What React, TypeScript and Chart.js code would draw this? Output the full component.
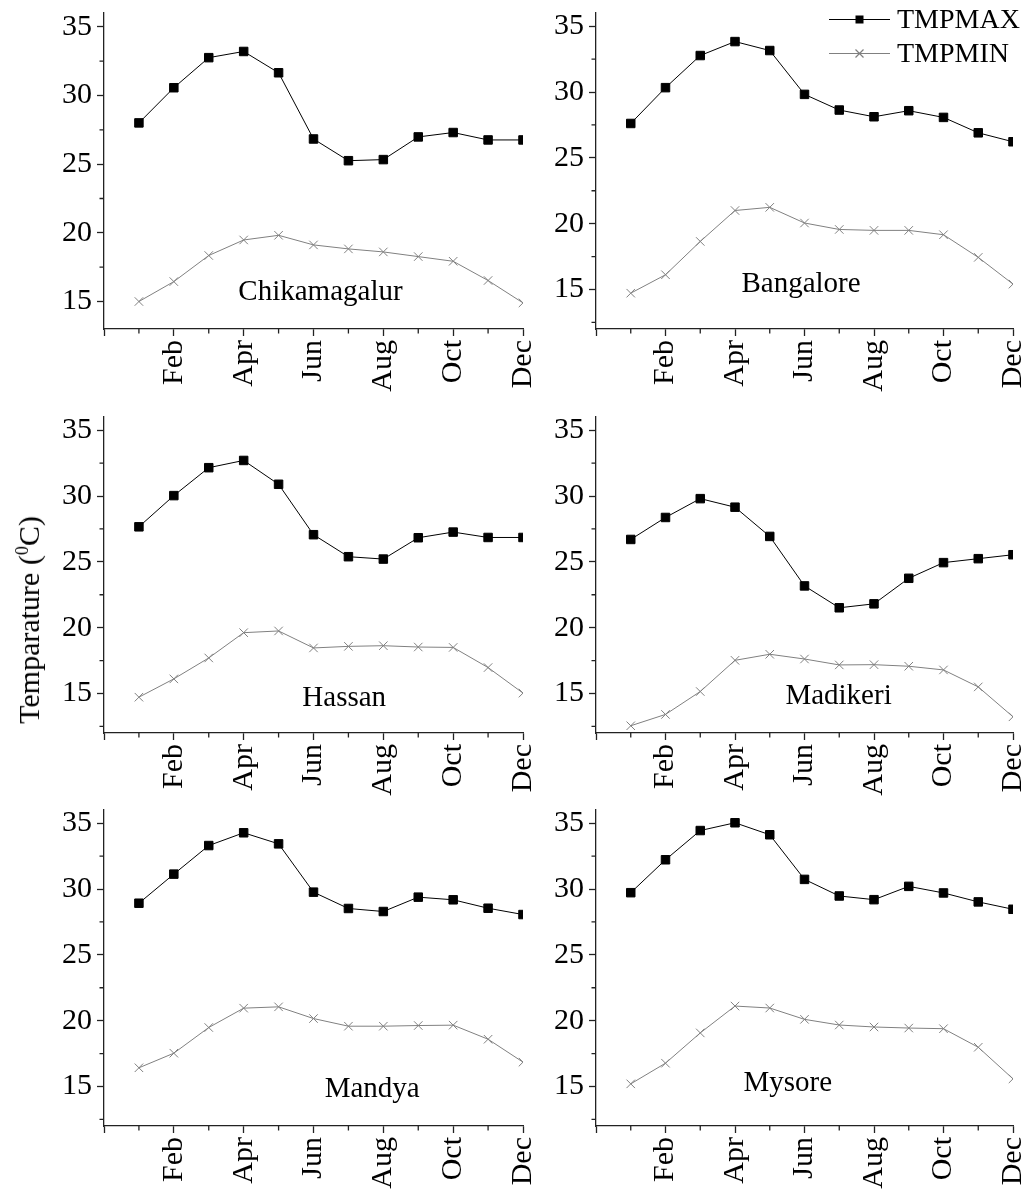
import React, { useEffect, useRef } from 'react';
import { Chart, registerables } from 'chart.js';

Chart.register(...registerables);

// ---------- data ----------
const monthNumbers = [1, 2, 3, 4, 5, 6, 7, 8, 9, 10, 11, 12];
const monthNames = ['Jan', 'Feb', 'Mar', 'Apr', 'May', 'Jun', 'Jul', 'Aug', 'Sep', 'Oct', 'Nov', 'Dec'];
const xMajorTicks = [0, 2, 4, 6, 8, 10, 12];
const xMinorTicks = [1, 3, 5, 7, 9, 11];
const yMajorTicks = [15, 20, 25, 30, 35];
const yMinorTicks = [12.5, 17.5, 22.5, 27.5, 32.5];
const seriesNames = ['TMPMAX', 'TMPMIN'];

const chikamagalurMax = [28.0, 30.56, 32.75, 33.2, 31.65, 26.83, 25.25, 25.33, 26.98, 27.3, 26.76, 26.76];
const chikamagalurMin = [15.0, 16.45, 18.35, 19.48, 19.82, 19.12, 18.83, 18.61, 18.27, 17.93, 16.53, 14.9];

const bangaloreMax = [27.61, 30.33, 32.77, 33.83, 33.15, 29.82, 28.63, 28.12, 28.58, 28.07, 26.9, 26.22];
const bangaloreMin = [14.72, 16.12, 18.65, 21.0, 21.24, 20.05, 19.56, 19.49, 19.49, 19.16, 17.44, 15.41];

const hassanMax = [27.66, 30.03, 32.15, 32.7, 30.89, 27.06, 25.39, 25.21, 26.83, 27.26, 26.85, 26.85];
const hassanMin = [14.72, 16.11, 17.7, 19.62, 19.75, 18.46, 18.58, 18.63, 18.53, 18.5, 16.97, 15.03];

const madikeriMax = [26.7, 28.37, 29.8, 29.15, 26.93, 23.17, 21.51, 21.81, 23.75, 24.94, 25.24, 25.54];
const madikeriMin = [12.55, 13.41, 15.15, 17.52, 17.98, 17.62, 17.17, 17.19, 17.07, 16.79, 15.5, 13.23];

const mandyaMax = [28.92, 31.13, 33.3, 34.27, 33.43, 29.76, 28.52, 28.29, 29.38, 29.18, 28.54, 28.06];
const mandyaMin = [16.42, 17.53, 19.48, 20.95, 21.05, 20.16, 19.58, 19.58, 19.63, 19.66, 18.59, 16.85];

const mysoreMax = [29.72, 32.22, 34.44, 35.03, 34.12, 30.73, 29.47, 29.19, 30.2, 29.7, 29.02, 28.46];
const mysoreMin = [15.2, 16.77, 19.07, 21.11, 20.96, 20.1, 19.67, 19.52, 19.44, 19.39, 17.98, 15.58];

// ---------- layout / style ----------
const FONT = "'Liberation Serif', 'Times New Roman', Times, serif";
const AXIS_COLOR = '#222222';
const AXIS_W = 1.3;
const MAJOR_LEN = 7;
const MINOR_LEN = 4.5;
const MAX_COLOR = '#000000';
const MIN_COLOR = '#808080';
const TICK_FONT = 30;

type Panel = {
  name: string;
  max: number[];
  min: number[];
  yMin: number;
  labelX: number;
  labelY: number;
  legend: boolean;
  left: number;
  width: number;
  plotLeft: number;
  plotRight: number;
  plotTop: number;
  plotBottom: number;
};

const LEFT_COL = { left: 0, width: 540, plotLeft: 104, plotRight: 523 };
const RIGHT_COL = { left: 540, width: 487, plotLeft: 56, plotRight: 473 };
const ROWS = [
  { plotTop: 12.5, plotBottom: 328.5 },
  { plotTop: 417, plotBottom: 733 },
  { plotTop: 810, plotBottom: 1126 },
];

const panels: Panel[] = [
  { name: 'Chikamagalur', max: chikamagalurMax, min: chikamagalurMin, yMin: 13, labelX: 6.2, labelY: 15.65, legend: false, ...LEFT_COL, ...ROWS[0] },
  { name: 'Bangalore', max: bangaloreMax, min: bangaloreMin, yMin: 12, labelX: 5.9, labelY: 15.4, legend: true, ...RIGHT_COL, ...ROWS[0] },
  { name: 'Hassan', max: hassanMax, min: hassanMin, yMin: 12, labelX: 6.88, labelY: 14.65, legend: false, ...LEFT_COL, ...ROWS[1] },
  { name: 'Madikeri', max: madikeriMax, min: madikeriMin, yMin: 12, labelX: 6.98, labelY: 14.75, legend: false, ...RIGHT_COL, ...ROWS[1] },
  { name: 'Mandya', max: mandyaMax, min: mandyaMin, yMin: 12, labelX: 7.68, labelY: 14.75, legend: false, ...LEFT_COL, ...ROWS[2] },
  { name: 'Mysore', max: mysoreMax, min: mysoreMin, yMin: 12, labelX: 5.52, labelY: 15.2, legend: false, ...RIGHT_COL, ...ROWS[2] },
];

const TOP_PAD = 12;
const BOTTOM_SPACE = 70;

const decorPlugin = {
  id: 'decor',
  afterDraw(chart: any, _args: any, opts: any) {
    const { ctx } = chart;
    const xs = chart.scales.x;
    const ys = chart.scales.y;
    const area = chart.chartArea;
    ctx.save();
    ctx.strokeStyle = AXIS_COLOR;
    ctx.lineWidth = AXIS_W;
    ctx.beginPath();
    for (const v of xMinorTicks) {
      const px = xs.getPixelForValue(v);
      ctx.moveTo(px, area.bottom);
      ctx.lineTo(px, area.bottom + MINOR_LEN);
    }
    for (const v of yMinorTicks) {
      if (v < ys.min || v > ys.max) continue;
      const py = ys.getPixelForValue(v);
      ctx.moveTo(area.left, py);
      ctx.lineTo(area.left - MINOR_LEN, py);
    }
    ctx.stroke();

    ctx.fillStyle = '#000';
    ctx.font = `29px ${FONT}`;
    ctx.textAlign = 'center';
    ctx.textBaseline = 'middle';
    ctx.fillText(opts.label, xs.getPixelForValue(opts.lx), ys.getPixelForValue(opts.ly));

    if (opts.legend) {
      const colors = [MAX_COLOR, MIN_COLOR];
      const rows = [area.top + 6.5, area.top + 40.5];
      const x0 = area.right - 184;
      const x1 = area.right - 123;
      const xm = (x0 + x1) / 2;
      seriesNames.forEach((nm, i) => {
        const y = rows[i];
        ctx.strokeStyle = colors[i];
        ctx.lineWidth = 1.2;
        ctx.beginPath();
        ctx.moveTo(x0, y);
        ctx.lineTo(x1, y);
        ctx.stroke();
        if (i === 0) {
          ctx.fillStyle = MAX_COLOR;
          ctx.fillRect(xm - 4, y - 4, 8, 8);
        } else {
          ctx.beginPath();
          ctx.moveTo(xm - 4, y - 4);
          ctx.lineTo(xm + 4, y + 4);
          ctx.moveTo(xm - 4, y + 4);
          ctx.lineTo(xm + 4, y - 4);
          ctx.stroke();
        }
        ctx.fillStyle = '#000';
        ctx.font = `28px ${FONT}`;
        ctx.textAlign = 'left';
        ctx.textBaseline = 'middle';
        ctx.fillText(nm, x1 + 7, y + 1);
      });
    }
    ctx.restore();
  },
};

function PanelChart({ p }: { p: Panel }) {
  const ref = useRef<HTMLCanvasElement | null>(null);
  const canvasTop = p.plotTop - TOP_PAD;
  const canvasHeight = p.plotBottom - p.plotTop + TOP_PAD + BOTTOM_SPACE;
  useEffect(() => {
    if (!ref.current) return;
    const xAxisHeight = canvasHeight - (p.plotBottom - canvasTop);
    const chart = new Chart(ref.current, {
      type: 'line',
      data: {
        datasets: [
          {
            label: seriesNames[0],
            data: monthNumbers.map((m, i) => ({ x: m, y: p.max[i] })),
            borderColor: MAX_COLOR,
            borderWidth: 1,
            backgroundColor: MAX_COLOR,
            pointStyle: 'rect',
            pointRadius: 6,
            pointBorderWidth: 1,
            pointBackgroundColor: MAX_COLOR,
            pointBorderColor: MAX_COLOR,
            tension: 0,
            clip: 0,
          },
          {
            label: seriesNames[1],
            data: monthNumbers.map((m, i) => ({ x: m, y: p.min[i] })),
            borderColor: MIN_COLOR,
            borderWidth: 1,
            backgroundColor: MIN_COLOR,
            pointStyle: 'crossRot',
            pointRadius: 6,
            pointBorderWidth: 1,
            pointBorderColor: MIN_COLOR,
            tension: 0,
            clip: 0,
          },
        ],
      },
      options: {
        responsive: false,
        animation: false,
        devicePixelRatio: 1,
        layout: { padding: { left: 0, top: TOP_PAD, right: p.width - p.plotRight, bottom: 0 } },
        plugins: {
          legend: { display: false },
          tooltip: { enabled: false },
          decor: { label: p.name, lx: p.labelX, ly: p.labelY, legend: p.legend },
        } as any,
        scales: {
          x: {
            type: 'linear',
            min: 0,
            max: 12,
            afterBuildTicks: (s: any) => {
              s.ticks = xMajorTicks.map((v) => ({ value: v }));
            },
            afterFit: (s: any) => {
              s.height = xAxisHeight;
              s.paddingLeft = 0;
              s.paddingRight = 0;
              s.paddingTop = 0;
              s.paddingBottom = 0;
            },
            ticks: {
              autoSkip: false,
              minRotation: 90,
              maxRotation: 90,
              padding: 4,
              color: '#000',
              font: { family: FONT, size: TICK_FONT },
              callback: (v: any) => (v >= 1 ? monthNames[v - 1] : ''),
            },
            grid: {
              display: true,
              drawOnChartArea: false,
              drawTicks: true,
              tickLength: MAJOR_LEN,
              tickColor: AXIS_COLOR,
              tickWidth: AXIS_W,
            },
            border: { display: true, color: AXIS_COLOR, width: AXIS_W },
          },
          y: {
            type: 'linear',
            min: p.yMin,
            max: 36,
            afterBuildTicks: (s: any) => {
              s.ticks = yMajorTicks.map((v) => ({ value: v }));
            },
            afterFit: (s: any) => {
              s.width = p.plotLeft;
              s.paddingLeft = 0;
              s.paddingRight = 0;
              s.paddingTop = 0;
              s.paddingBottom = 0;
            },
            ticks: {
              padding: 5,
              color: '#000',
              font: { family: FONT, size: TICK_FONT },
              callback: (v: any) => String(v),
            },
            grid: {
              display: true,
              drawOnChartArea: false,
              drawTicks: true,
              tickLength: MAJOR_LEN,
              tickColor: AXIS_COLOR,
              tickWidth: AXIS_W,
            },
            border: { display: true, color: AXIS_COLOR, width: AXIS_W },
          },
        },
      },
      plugins: [decorPlugin],
    });
    return () => chart.destroy();
  }, []);
  return (
    <canvas
      ref={ref}
      width={p.width}
      height={canvasHeight}
      style={{ position: 'absolute', left: p.left, top: canvasTop, width: p.width, height: canvasHeight }}
    />
  );
}

export default function App() {
  return (
    <div
      style={{
        position: 'absolute',
        left: 0,
        top: 0,
        width: 1027,
        height: 1189,
        overflow: 'hidden',
        background: '#ffffff',
      }}
    >
      {panels.map((p) => (
        <PanelChart key={p.name} p={p} />
      ))}
      <div
        style={{
          position: 'absolute',
          left: 29,
          top: 620,
          transform: 'translate(-50%, -50%) rotate(-90deg)',
          whiteSpace: 'nowrap',
          fontFamily: FONT,
          fontSize: 30,
          lineHeight: 1,
          color: '#000',
        }}
      >
        Temparature (<sup style={{ fontSize: '0.6em', verticalAlign: '0.6em', lineHeight: 0 }}>0</sup>C)
      </div>
    </div>
  );
}
